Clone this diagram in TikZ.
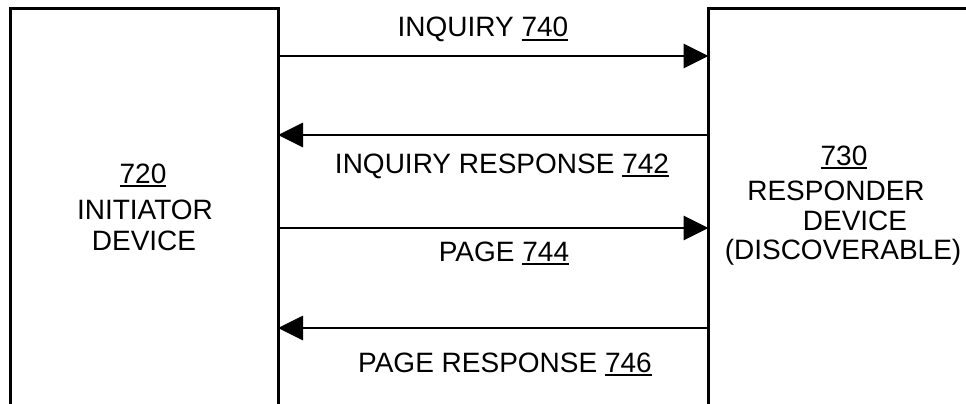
\documentclass[tikz,border=0pt]{standalone}
\usepackage{fontspec}
\setmainfont{Liberation Sans}
\usetikzlibrary{arrows.meta}
\newcommand\uln[1]{\leavevmode\vtop{\hbox{#1}\kern2.2pt\hrule height 1.8pt}}
\begin{document}
\begin{tikzpicture}[x=1pt,y=-1pt,
  box/.style={draw, line width=3pt, inner sep=0pt, outer sep=0pt, anchor=north west},
  msg/.style={line width=2.8pt, -{Triangle[length=25pt,width=24pt]}},
  lbl/.style={font=\fontsize{28}{30}\selectfont, anchor=base, inner sep=0pt}]
\useasboundingbox (0,0) rectangle (966,404);
\clip (0,0) rectangle (966,404);
\node[box, minimum width=268pt, minimum height=500pt] (init) at (10,9) {};
\node[box, minimum width=272pt, minimum height=500pt] (resp) at (708.5,9) {};
\coordinate (a1) at (0,56);
\coordinate (a2) at (0,135);
\coordinate (a3) at (0,228);
\coordinate (a4) at (0,328);
\draw[msg] (init.east |- a1) -- (resp.west |- a1);
\draw[msg] (resp.west |- a2) -- (init.east |- a2);
\draw[msg] (init.east |- a3) -- (resp.west |- a3);
\draw[msg] (resp.west |- a4) -- (init.east |- a4);
\node[lbl] (t740) at (483,37) {INQUIRY \uln{740}};
\node[lbl] (t742) at (502,173) {INQUIRY RESPONSE \uln{742}};
\node[lbl] (t744) at (504,261) {PAGE \uln{744}};
\node[lbl] (t746) at (505,372) {PAGE RESPONSE \uln{746}};
\node[lbl] (n720) at (143,183) {\uln{720}};
\node[lbl] (ninit) at (145,219) {INITIATOR};
\node[lbl] (ndev1) at (144,250) {DEVICE};
\node[lbl] (n730) at (844,165) {\uln{730}};
\node[lbl] (nresp) at (836,200) {RESPONDER};
\node[lbl] (ndev2) at (855,230) {DEVICE};
\node[lbl] (ndisc) at (843,259) {(DISCOVERABLE)};
\end{tikzpicture}
\end{document}
